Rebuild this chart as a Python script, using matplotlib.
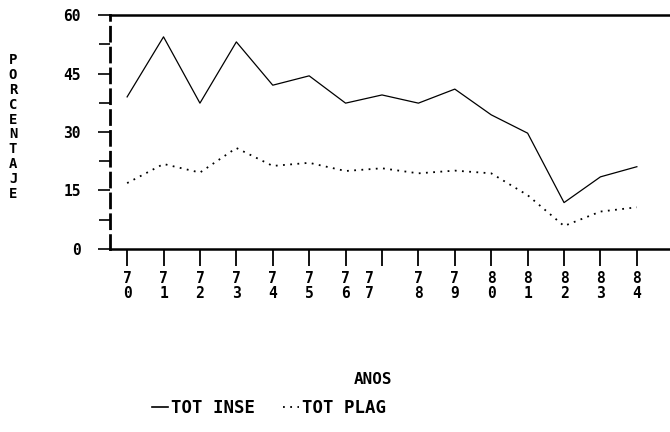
import matplotlib
matplotlib.use('Agg')
import matplotlib.pyplot as plt
import matplotlib.transforms as mtransforms
from matplotlib.ticker import MultipleLocator
from matplotlib.lines import Line2D

# datos
anos = [70, 71, 72, 73, 74, 75, 76, 77, 78, 79, 80, 81, 82, 83, 84]
tot_inse = [39.0, 54.4, 37.4, 53.1, 42.0, 44.4, 37.4, 39.5, 37.4, 41.0, 34.4, 29.7, 11.9, 18.5, 21.1]
tot_plag = [16.9, 21.8, 19.6, 25.9, 21.3, 22.1, 20.0, 20.7, 19.4, 20.1, 19.4, 13.8, 5.9, 9.6, 10.7]
etiquetas_x = ['7\n0', '7\n1', '7\n2', '7\n3', '7\n4', '7\n5', '7\n6', '7\n7',
               '7\n8', '7\n9', '8\n0', '8\n1', '8\n2', '8\n3', '8\n4']
ticks_y = [0, 15, 30, 45, 60]

plt.rcParams['font.family'] = 'DejaVu Sans Mono'
plt.rcParams['font.weight'] = 'bold'

fig = plt.figure(figsize=(6.7, 4.32), dpi=100)
ax = fig.add_axes([110/670, 1 - 249/432, 1 - 110/670, 234/432])

ax.plot(anos, tot_inse, color='black', lw=0.9)
ax.plot(anos, tot_plag, color='black', lw=1.3, linestyle=(0, (1, 3)))

ax.set_xlim(69.53, 84.91)
ax.set_ylim(0, 60)

# ejes estilo impresora
ax.spines['right'].set_visible(False)
ax.spines['top'].set_linewidth(1.8)
ax.spines['bottom'].set_linewidth(1.8)
ax.spines['left'].set_linewidth(2)
ax.spines['left'].set_linestyle((0, (5, 2.5)))

ax.set_yticks(ticks_y)
ax.set_yticklabels([str(v) for v in ticks_y])
ax.yaxis.set_minor_locator(MultipleLocator(7.5))
ax.tick_params(axis='y', which='major', length=9, width=1.2, pad=12, labelsize=10.5)
ax.tick_params(axis='y', which='minor', length=8, width=1.2)

ax.set_xticks(anos)
ax.set_xticklabels(etiquetas_x, linespacing=1.0)
ax.tick_params(axis='x', length=12, width=1.3, pad=4, labelsize=10.5)

# la etiqueta 77 sale corrida a la izquierda en el original
lbl = ax.get_xticklabels()[7]
lbl.set_transform(lbl.get_transform() + mtransforms.ScaledTranslation(-13/100, 0, fig.dpi_scale_trans))

fig.text(13/670, 1 - 127/432, '\n'.join('PORCENTAJE'), ha='center', va='center',
         fontsize=10, linespacing=1.08)
fig.text(373/670, 1 - 380/432, 'ANOS', ha='center', va='center', fontsize=11.5)

handles = [Line2D([], [], color='black', lw=1.2),
           Line2D([], [], color='black', lw=1.3, linestyle=(0, (1, 3)))]
fig.legend(handles, ['TOT INSE', 'TOT PLAG'], loc='center left',
           bbox_to_anchor=(152/670, 1 - 408/432), ncol=2, frameon=False,
           handlelength=0.9, handletextpad=0.2, columnspacing=1.6, fontsize=12.5,
           borderaxespad=0, borderpad=0)

fig.savefig('out.png', dpi=100)
